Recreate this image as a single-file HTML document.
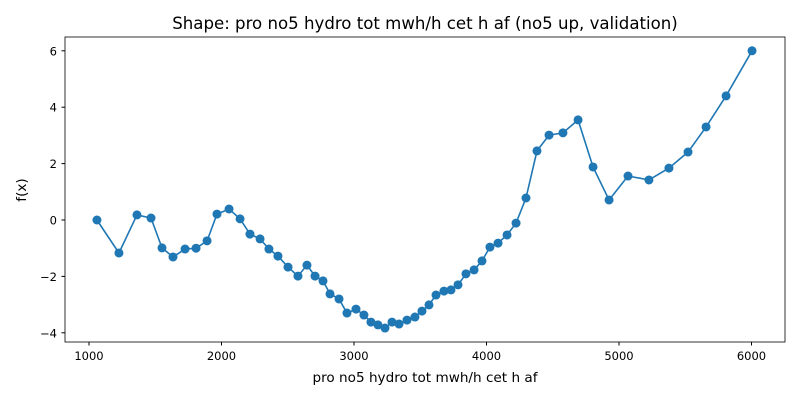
<!DOCTYPE html>
<html><head><meta charset="utf-8"><style>
body{margin:0;background:#fff;}
svg text{font-family:"DejaVu Sans","Liberation Sans",sans-serif;fill:#000;}
</style></head><body>
<svg id="chart" width="800" height="400" xmlns="http://www.w3.org/2000/svg">
<rect width="800" height="400" fill="#fff"/>
<text x="425" y="29" font-size="16.6" text-anchor="middle">Shape: pro no5 hydro tot mwh/h cet h af (no5 up, validation)</text>
<g id="ticks"></g>
<g id="series"></g>
<rect x="65" y="37" width="720" height="305" fill="none" stroke="#000" stroke-width="0.8"/>
<text x="425" y="382" font-size="13.6" text-anchor="middle">pro no5 hydro tot mwh/h cet h af</text>
<text x="26" y="190" font-size="13.6" text-anchor="middle" transform="rotate(-90 26 190)">f(x)</text>
</svg>
<script>
const xValues=[1060,1226,1362,1468,1551,1634,1725,1808,1891,1966,2057,2140,2215,2291,2358,2426,2502,2577,2645,2706,2766,2819,2887,2947,3015,3075,3128,3181,3234,3287,3340,3400,3460,3513,3566,3619,3679,3732,3785,3845,3906,3966,4026,4087,4155,4223,4298,4381,4472,4577,4691,4804,4925,5068,5226,5377,5521,5657,5808,6004];
const yValues=[0,-1.17,0.18,0.07,-0.99,-1.31,-1.03,-1.0,-0.74,0.21,0.39,0.04,-0.5,-0.67,-1.03,-1.28,-1.67,-1.99,-1.6,-1.99,-2.16,-2.62,-2.8,-3.3,-3.16,-3.37,-3.62,-3.72,-3.83,-3.62,-3.69,-3.55,-3.44,-3.23,-3.01,-2.66,-2.52,-2.48,-2.3,-1.91,-1.77,-1.45,-0.96,-0.82,-0.53,-0.11,0.78,2.45,3.01,3.09,3.55,1.88,0.71,1.56,1.42,1.84,2.41,3.3,4.4,6.0];
const xTicks=[1000,2000,3000,4000,5000,6000];
const yTicks=[-4,-2,0,2,4,6];
const NS="http://www.w3.org/2000/svg";
function sx(v){return 89+(v-1000)*0.1325;}
function sy(v){return 220-v*28.2;}
const tg=document.getElementById('ticks');
xTicks.forEach(t=>{
 const l=document.createElementNS(NS,'line');
 l.setAttribute('x1',sx(t));l.setAttribute('x2',sx(t));l.setAttribute('y1',342);l.setAttribute('y2',345.5);l.setAttribute('stroke','#000');
 
 
 tg.appendChild(l);
 const tx=document.createElementNS(NS,'text');
 tx.setAttribute('x',sx(t));tx.setAttribute('y',360);tx.setAttribute('font-size','11.5');tx.setAttribute('text-anchor','middle');
 tx.textContent=t;
 
 
 tg.appendChild(tx);
});
yTicks.forEach(t=>{
 const l=document.createElementNS(NS,'line');
 l.setAttribute('x1',61.5);l.setAttribute('x2',65);l.setAttribute('y1',sy(t));l.setAttribute('y2',sy(t));l.setAttribute('stroke','#000');
 
 
 tg.appendChild(l);
 const tx=document.createElementNS(NS,'text');
 tx.setAttribute('x',57);tx.setAttribute('y',sy(t)+4.5);tx.setAttribute('font-size','11.5');tx.setAttribute('text-anchor','end');
 tx.textContent=(t<0?'\u2212'+(-t):t);
 
 
 tg.appendChild(tx);
});
const sg=document.getElementById('series');
const pl=document.createElementNS(NS,'polyline');
pl.setAttribute('points',xValues.map((x,i)=>sx(x)+','+sy(yValues[i])).join(' '));
pl.setAttribute('fill','none');pl.setAttribute('stroke','#1f77b4');pl.setAttribute('stroke-width','1.6');


sg.appendChild(pl);
xValues.forEach((x,i)=>{
 const c=document.createElementNS(NS,'circle');
 c.setAttribute('cx',sx(x));c.setAttribute('cy',sy(yValues[i]));c.setAttribute('r',4.5);c.setAttribute('fill','#1f77b4');
 
 
 sg.appendChild(c);
});
</script>
</body></html>
